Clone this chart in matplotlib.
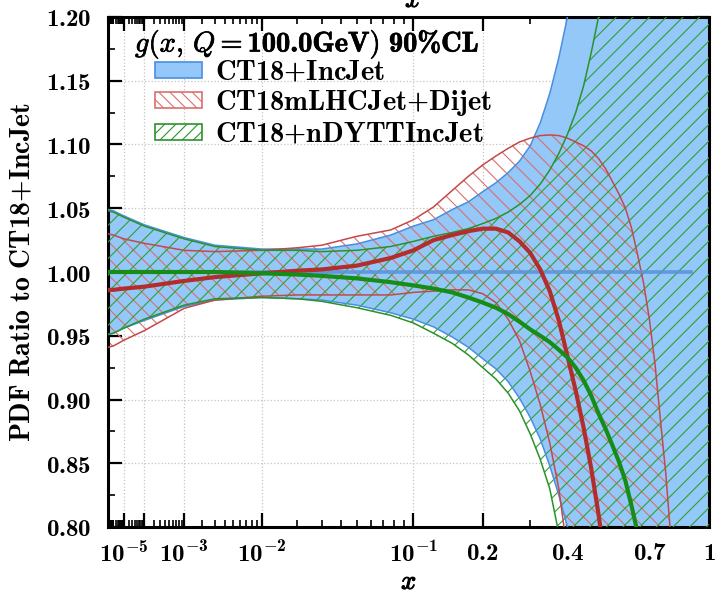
import numpy as np
import matplotlib
matplotlib.use("Agg")
import matplotlib.pyplot as plt
from matplotlib.patches import Patch
from matplotlib.ticker import FixedLocator, FixedFormatter, NullFormatter
import matplotlib.patheffects as pe

# ---- data (ratio to CT18+IncJet) ----
x_vals = [1e-7, 1e-6, 1e-5, 1e-4, 1e-3, 3e-3, 1e-2, 0.02, 0.03, 0.05, 0.077, 0.1, 0.124,
          0.15, 0.175, 0.2, 0.225, 0.25, 0.275, 0.3, 0.325, 0.35, 0.375, 0.4, 0.425, 0.45,
          0.475, 0.5, 0.525, 0.55, 0.575, 0.6, 0.625, 0.65, 0.675, 0.7, 0.725, 0.75, 0.775,
          0.8, 0.9, 1.0]

incjet_up = [1.049, 1.048, 1.044, 1.037, 1.027, 1.021, 1.018, 1.018, 1.018, 1.022, 1.029, 1.036, 1.041,
             1.049, 1.055, 1.063, 1.070, 1.078, 1.087, 1.099, 1.117, 1.140, 1.168, 1.200, 1.240, 1.280,
             1.330, 1.380, 1.440, 1.500, 1.570, 1.650, 1.720, 1.800, 1.900, 2.000, 2.100, 2.200, 2.300,
             2.400, 2.800, 3.200]
incjet_lo = [0.951, 0.952, 0.956, 0.962, 0.973, 0.978, 0.980, 0.979, 0.978, 0.974, 0.968, 0.963, 0.957,
             0.949, 0.941, 0.932, 0.924, 0.914, 0.901, 0.886, 0.869, 0.848, 0.825, 0.800, 0.770, 0.735,
             0.695, 0.650, 0.605, 0.560, 0.505, 0.450, 0.390, 0.330, 0.265, 0.200, 0.150, 0.100, 0.050,
             0.000, -0.300, -0.600]

dijet_up = [1.030, 1.029, 1.026, 1.0225, 1.017, 1.016, 1.017, 1.019, 1.021, 1.028, 1.033, 1.041, 1.051,
            1.064, 1.075, 1.084, 1.091, 1.097, 1.102, 1.105, 1.107, 1.1075, 1.107, 1.105, 1.102, 1.099,
            1.095, 1.089, 1.081, 1.071, 1.061, 1.050, 1.034, 1.013, 0.991, 0.963, 0.928, 0.884, 0.842,
            0.790, 0.500, 0.200]
dijet_mid = [0.986, 0.986, 0.987, 0.9885, 0.993, 0.996, 0.999, 1.001, 1.002, 1.005, 1.011, 1.017, 1.025,
             1.029, 1.032, 1.034, 1.034, 1.031, 1.024, 1.015, 1.002, 0.985, 0.962, 0.934, 0.907, 0.878,
             0.846, 0.810, 0.770, 0.720, 0.665, 0.600, 0.530, 0.450, 0.380, 0.300, 0.220, 0.150, 0.080,
             0.000, -0.300, -0.600]
dijet_lo = [0.941, 0.942, 0.9465, 0.954, 0.9715, 0.978, 0.981, 0.982, 0.982, 0.982, 0.982, 0.984, 0.985,
            0.986, 0.986, 0.983, 0.976, 0.963, 0.946, 0.922, 0.896, 0.866, 0.830, 0.780, 0.720, 0.650,
            0.580, 0.500, 0.420, 0.350, 0.270, 0.200, 0.120, 0.050, -0.030, -0.100, -0.170, -0.250, -0.320,
            -0.400, -0.700, -1.000]

ndy_up = [1.048, 1.047, 1.043, 1.036, 1.026, 1.020, 1.017, 1.017, 1.016, 1.017, 1.020, 1.024, 1.028,
          1.031, 1.034, 1.038, 1.042, 1.047, 1.053, 1.060, 1.069, 1.080, 1.093, 1.108, 1.125, 1.146,
          1.172, 1.200, 1.240, 1.280, 1.330, 1.380, 1.440, 1.500, 1.570, 1.650, 1.720, 1.800, 1.900,
          2.000, 2.400, 2.800]
ndy_mid = [1.000, 1.000, 1.000, 1.000, 1.000, 1.000, 0.999, 0.998, 0.997, 0.995, 0.992, 0.9895, 0.987,
           0.984, 0.980, 0.976, 0.972, 0.967, 0.961, 0.955, 0.950, 0.945, 0.939, 0.933, 0.925, 0.915,
           0.903, 0.889, 0.877, 0.864, 0.851, 0.836, 0.816, 0.795, 0.770, 0.740, 0.710, 0.680, 0.640,
           0.600, 0.450, 0.300]
ndy_lo = [0.951, 0.952, 0.956, 0.963, 0.974, 0.979, 0.980, 0.979, 0.977, 0.972, 0.966, 0.960, 0.952,
          0.944, 0.935, 0.925, 0.916, 0.905, 0.891, 0.873, 0.853, 0.830, 0.795, 0.750, 0.700, 0.655,
          0.610, 0.550, 0.490, 0.420, 0.360, 0.300, 0.220, 0.150, 0.080, 0.000, -0.100, -0.200, -0.300,
          -0.400, -0.800, -1.200]

central_x_end = 0.92

x_major = [1e-5, 1e-4, 1e-3, 1e-2, 0.1, 0.2, 0.4, 0.7, 1.0]
x_major_labels = [r"$\mathbf{10^{-5}}$", "", r"$\mathbf{10^{-3}}$", r"$\mathbf{10^{-2}}$",
                  r"$\mathbf{10^{-1}}$", r"$\mathbf{0.2}$", r"$\mathbf{0.4}$",
                  r"$\mathbf{0.7}$", r"$\mathbf{1}$"]
y_major = [0.80, 0.85, 0.90, 0.95, 1.00, 1.05, 1.10, 1.15, 1.20]

legend_title = r"$g(x,\,Q=\mathbf{100.0GeV})\ \mathbf{90\%CL}$"
legend_labels = [r"$\mathbf{CT18{+}IncJet}$", r"$\mathbf{CT18mLHCJet{+}Dijet}$",
                 r"$\mathbf{CT18{+}nDYTTIncJet}$"]

# ---- style: Computer Modern, bold digits from cmb10 ----
plt.rcParams["mathtext.fontset"] = "custom"
plt.rcParams["mathtext.rm"] = "cmr10"
plt.rcParams["mathtext.it"] = "cmmi10"
plt.rcParams["mathtext.bf"] = "cmb10"
plt.rcParams["mathtext.fallback"] = "cm"
plt.rcParams["hatch.linewidth"] = 0.8

BLUE_FILL = "#94c8f8"
BLUE_EDGE = "#4a8ee0"
BLUE_LINE = "#5a94dc"
RED_LINE = "#b32d2d"
RED_EDGE = "#c24a4a"
RED_HATCH = "#dc6e6e"
GREEN_LINE = "#178c17"
GREEN_EDGE = "#2a922a"
GREEN_HATCH = "#30a030"

POW = 0.29


def fwd(x):
    return np.power(np.clip(x, 1e-12, None), POW)


def inv(y):
    return np.power(np.clip(y, 0, None), 1.0 / POW)


fig = plt.figure(figsize=(7.25, 5.92), dpi=100)
ax = fig.add_axes([108 / 725, 1 - 527 / 592, 601 / 725, 510 / 592])
ax.set_xscale("function", functions=(fwd, inv))

x = np.array(x_vals)

# bands
ax.fill_between(x, incjet_lo, incjet_up, facecolor=BLUE_FILL, edgecolor="none", zorder=1)
ax.fill_between(x, dijet_lo, dijet_up, facecolor="none", edgecolor=RED_HATCH,
                hatch="\\\\", linewidth=0, zorder=2)
ax.fill_between(x, ndy_lo, ndy_up, facecolor="none", edgecolor=GREEN_HATCH,
                hatch="//", linewidth=0, zorder=3)

# band edges
for lo, up, c in [(incjet_lo, incjet_up, BLUE_EDGE), (dijet_lo, dijet_up, RED_EDGE),
                  (ndy_lo, ndy_up, GREEN_EDGE)]:
    ax.plot(x, lo, color=c, lw=1.1, zorder=4)
    ax.plot(x, up, color=c, lw=1.1, zorder=4)

# central values
mask = x <= central_x_end
ax.plot(x[mask], np.ones(mask.sum()), color=BLUE_LINE, lw=2.6, alpha=0.9, zorder=5)
ax.plot(x, dijet_mid, color=RED_LINE, lw=3.0, zorder=6)
ax.plot(x, ndy_mid, color=GREEN_LINE, lw=3.0, zorder=7)

ax.set_xlim(1e-7, 1.0)
ax.set_ylim(0.8, 1.2)

# ticks
minor_x = [m * 10.0 ** k for k in range(-7, -1) for m in range(2, 10)] + [1e-7, 1e-6]
minor_x += [0.3, 0.5, 0.6, 0.8, 0.9]
ax.xaxis.set_major_locator(FixedLocator(x_major))
ax.xaxis.set_major_formatter(FixedFormatter(x_major_labels))
ax.xaxis.set_minor_locator(FixedLocator(minor_x))
ax.xaxis.set_minor_formatter(NullFormatter())

ax.yaxis.set_major_locator(FixedLocator(y_major))
ax.yaxis.set_major_formatter(FixedFormatter([r"$\mathbf{%.2f}$" % v for v in y_major]))
ax.yaxis.set_minor_locator(FixedLocator([v + 0.025 for v in y_major[:-1]]))

ax.tick_params(which="both", direction="in", top=True, right=True, labelsize=18)
ax.tick_params(which="major", length=10, width=1.6)
ax.tick_params(which="minor", length=5, width=1.2)
ax.tick_params(axis="y", pad=12)
ax.tick_params(axis="x", pad=10)
for s in ax.spines.values():
    s.set_linewidth(2.2)

ax.grid(which="major", ls=":", color="#c4c4c4", lw=0.9, zorder=0)
ax.set_axisbelow(True)

# labels
fig.text(22 / 725, 1 - 272 / 592, r"$\mathbf{PDF\ Ratio\ to\ CT18{+}IncJet}$",
         rotation=90, ha="center", va="center", fontsize=20)
fig.text(409 / 725, 1 - 582 / 592, r"$x$", ha="center", va="center", fontsize=19,
         path_effects=[pe.withStroke(linewidth=0.8, foreground="black")])
# cut-off text from neighbouring panels
fig.text(413 / 725, 1.0, r"$x$", ha="center", va="center", fontsize=19,
         path_effects=[pe.withStroke(linewidth=0.8, foreground="black")])
fig.text(516 / 725, 1 - 589 / 592, r"$\mathbf{1.20}$", ha="center", va="top", fontsize=18)

# legend
ax.text(27 / 601, 1 - (44 - 17) / 510, legend_title,
        transform=ax.transAxes, ha="left", va="center", fontsize=20.5, zorder=10,
        path_effects=[pe.withStroke(linewidth=0.5, foreground="black")])
handles = [Patch(facecolor=BLUE_FILL, edgecolor=BLUE_EDGE, lw=1.2),
           Patch(facecolor="white", edgecolor=RED_HATCH, hatch="\\\\\\", lw=1.2),
           Patch(facecolor="white", edgecolor=GREEN_EDGE, hatch="///", lw=1.2)]
leg = ax.legend(handles, legend_labels, loc="upper left",
                bbox_to_anchor=((155 - 108) / 601, 1 - (58 - 17) / 510),
                frameon=False, fontsize=20.5, handlelength=1.65, handleheight=0.53,
                handletextpad=0.45, labelspacing=0.07, borderpad=0, borderaxespad=0)
leg.set_zorder(10)

fig.savefig("out.png", dpi=100)
